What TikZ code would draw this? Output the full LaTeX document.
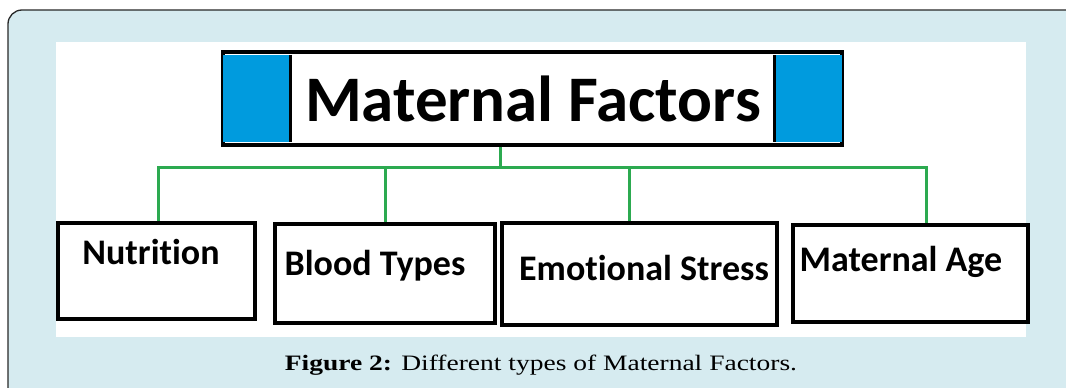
\documentclass[tikz,border=0pt]{standalone}
\usepackage{fontspec}
\setmainfont{Liberation Serif}
\newfontfamily\calib[Ligatures=CommonOff]{Carlito}
\usetikzlibrary{calc}
\definecolor{panelbg}{RGB}{214,235,240}
\definecolor{panelline}{RGB}{40,40,40}
\definecolor{boxblue}{RGB}{0,155,222}
\definecolor{lingreen}{RGB}{44,170,80}
\tikzset{
  leafbox/.style={draw=black, line width=3.5pt, fill=white, inner sep=0pt, anchor=north west},
  leaftext/.style={font=\calib\bfseries\fontsize{36}{40}\selectfont, inner sep=0pt},
  conn/.style={draw=lingreen, line width=3pt},
}
\begin{document}
\begin{tikzpicture}[x=1pt,y=-1pt]
\useasboundingbox (0,0) rectangle (1066,388);
% panel
\fill[panelbg] (8,388) -- (8,24) arc[start angle=180,end angle=270,radius=14] -- (1066,10) -- (1066,388) -- cycle;
\draw[panelline, line width=1.3pt] (8,388) -- (8,24) arc[start angle=180,end angle=270,radius=14] -- (1066,10);
% white image area
\fill[white] (56,42) rectangle (1026,337);
% top box
\node[draw=black, line width=4pt, fill=white, minimum width=619pt, minimum height=93pt, inner sep=0pt] (mf) at (532.5,98.5) {};
\node[fill=boxblue, minimum width=67pt, minimum height=87pt, inner sep=0pt, anchor=west] (bl) at ([xshift=2pt]mf.west) {};
\node[fill=boxblue, minimum width=67pt, minimum height=87pt, inner sep=0pt, anchor=east] (br) at ([xshift=-2pt]mf.east) {};
\draw[black, line width=3pt] (bl.north east) -- (bl.south east);
\draw[black, line width=3pt] (br.north west) -- (br.south west);
\node[font=\calib\bfseries\fontsize{65}{70}\selectfont, inner sep=0pt] (mft) at (533,99) {Maternal Factors};
% leaf boxes
\node[leafbox, minimum width=197pt, minimum height=96pt] (n1) at (56,221) {};
\node[leafbox, minimum width=220pt, minimum height=99pt] (n2) at (273,222) {};
\node[leafbox, minimum width=275pt, minimum height=102pt] (n3) at (500,221) {};
\node[leafbox, minimum width=235pt, minimum height=97pt] (n4) at (791,223) {};
\node[leaftext] (t1) at (151,252) {Nutrition};
\node[leaftext] (t2) at (375,266) {Blood Types};
\node[leaftext] (t3) at (644,268) {Emotional Stress};
\node[leaftext] (t4) at (901,262) {Maternal Age};
% connectors
\coordinate (hub) at (500,167);
\draw[conn] ([xshift=-32.5pt]mf.south) -- (hub);
\draw[conn] ([xshift=102pt]n1.north west) |- (hub) -| ([xshift=135pt]n4.north west);
\draw[conn] ([xshift=112pt]n2.north west) -- ([xshift=112pt]n2.north west |- hub);
\draw[conn] ([xshift=129pt]n3.north west) -- ([xshift=129pt]n3.north west |- hub);
% caption
\node[font=\fontsize{22}{26}\selectfont, inner sep=0pt, xscale=1.25] (cap) at (541,365) {\textbf{Figure 2:} Different types of Maternal Factors.};
\end{tikzpicture}
\end{document}
